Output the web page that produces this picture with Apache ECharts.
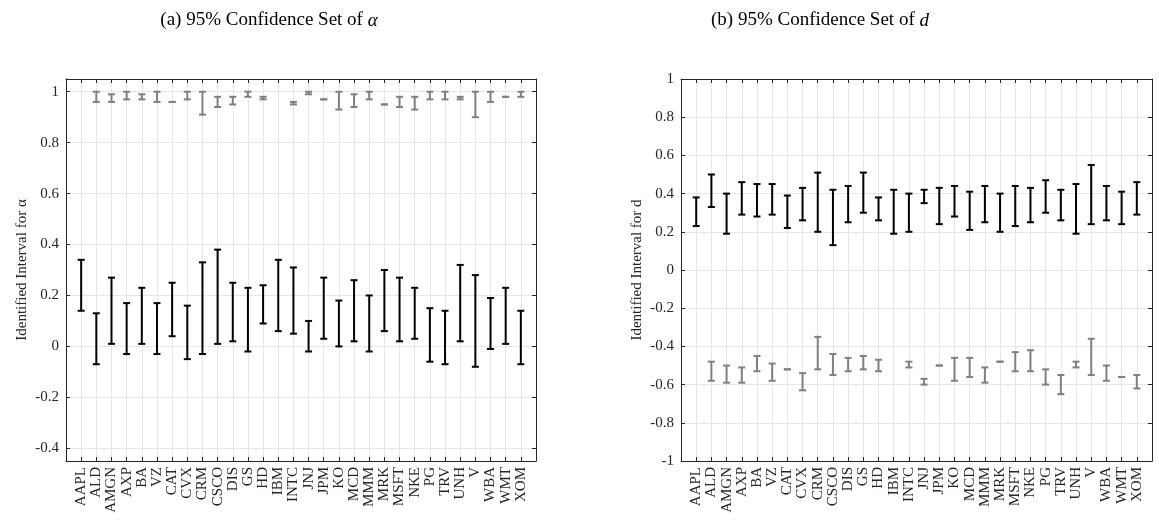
<!DOCTYPE html>
<html>
<head>
<meta charset="utf-8">
<script src="https://cdn.jsdelivr.net/npm/echarts@6/dist/echarts.min.js"></script>
<style>
  html, body { margin: 0; padding: 0; background: #fff; }
  #chart { width: 1159px; height: 527px; }
</style>
</head>
<body>
<div id="chart"></div>
<script>
const tickers = ["AAPL", "ALD", "AMGN", "AXP", "BA", "VZ", "CAT", "CVX", "CRM", "CSCO",
    "DIS", "GS", "HD", "IBM", "INTC", "JNJ", "JPM", "KO", "MCD", "MMM",
    "MRK", "MSFT", "NKE", "PG", "TRV", "UNH", "V", "WBA", "WMT", "XOM"];

// (a) alpha: main interval (black) and second piece (gray), null = no second piece
const alphaLow  = [0.14, -0.07, 0.01, -0.03, 0.01, -0.03, 0.04, -0.05, -0.03, 0.01,
    0.02, -0.02, 0.09, 0.06, 0.05, -0.02, 0.03, 0.00, 0.02, -0.02,
    0.06, 0.02, 0.03, -0.06, -0.07, 0.02, -0.08, -0.01, 0.01, -0.07];
const alphaHigh = [0.34, 0.13, 0.27, 0.17, 0.23, 0.17, 0.25, 0.16, 0.33, 0.38,
    0.25, 0.23, 0.24, 0.34, 0.31, 0.10, 0.27, 0.18, 0.26, 0.20,
    0.30, 0.27, 0.23, 0.15, 0.14, 0.32, 0.28, 0.19, 0.23, 0.14];
const alphaAltLow  = [null, 0.96, 0.96, 0.97, 0.97, 0.96, 0.96, 0.97, 0.91, 0.94,
    0.95, 0.98, 0.97, null, 0.95, 0.99, 0.97, 0.93, 0.94, 0.97,
    0.95, 0.94, 0.93, 0.97, 0.97, 0.97, 0.90, 0.96, 0.98, 0.98];
const alphaAltHigh = [null, 1.00, 0.99, 1.00, 0.99, 1.00, 0.96, 1.00, 1.00, 0.98,
    0.98, 1.00, 0.98, null, 0.96, 1.00, 0.97, 1.00, 0.99, 1.00,
    0.95, 0.98, 0.98, 1.00, 1.00, 0.98, 1.00, 1.00, 0.98, 1.00];

// (b) d
const dLow  = [0.23, 0.33, 0.19, 0.29, 0.28, 0.29, 0.22, 0.26, 0.20, 0.13,
    0.25, 0.30, 0.26, 0.19, 0.20, 0.35, 0.24, 0.28, 0.21, 0.25,
    0.20, 0.23, 0.25, 0.30, 0.26, 0.19, 0.24, 0.26, 0.24, 0.29];
const dHigh = [0.38, 0.50, 0.40, 0.46, 0.45, 0.45, 0.39, 0.43, 0.51, 0.42,
    0.44, 0.51, 0.38, 0.42, 0.40, 0.42, 0.43, 0.44, 0.41, 0.44,
    0.40, 0.44, 0.43, 0.47, 0.42, 0.45, 0.55, 0.44, 0.41, 0.46];
const dAltLow  = [null, -0.58, -0.59, -0.59, -0.53, -0.58, -0.52, -0.63, -0.52, -0.55,
    -0.53, -0.52, -0.53, null, -0.51, -0.60, -0.50, -0.58, -0.56, -0.59,
    -0.48, -0.53, -0.53, -0.60, -0.65, -0.51, -0.55, -0.58, -0.56, -0.62];
const dAltHigh = [null, -0.48, -0.50, -0.51, -0.45, -0.49, -0.52, -0.54, -0.35, -0.44,
    -0.46, -0.45, -0.47, null, -0.48, -0.57, -0.50, -0.46, -0.46, -0.51,
    -0.48, -0.43, -0.42, -0.52, -0.55, -0.48, -0.36, -0.50, -0.56, -0.55];

const alphaTicks = [-0.4, -0.2, 0, 0.2, 0.4, 0.6, 0.8, 1];
const dTicks = [-1, -0.8, -0.6, -0.4, -0.2, 0, 0.2, 0.4, 0.6, 0.8, 1];

const FONT = "Liberation Serif";
const AXIS_COLOR = "#262626";
const GRID_COLOR = "#e6e6e6";

const toItems = (low, high) =>
    low.map((lo, i) => (lo === null ? null : [i + 1, lo, high[i]]))
       .filter((d) => d !== null);

const errorBar = (color) => (params, api) => {
    const x = api.value(0);
    const lo = api.coord([x, api.value(1)]);
    const hi = api.coord([x, api.value(2)]);
    const half = 3.5;
    const style = { stroke: color, lineWidth: 2, fill: null };
    return {
        type: "group",
        children: [
            { type: "line", shape: { x1: lo[0], y1: lo[1], x2: hi[0], y2: hi[1] }, style },
            { type: "line", shape: { x1: lo[0] - half, y1: lo[1], x2: lo[0] + half, y2: lo[1] }, style },
            { type: "line", shape: { x1: hi[0] - half, y1: hi[1], x2: hi[0] + half, y2: hi[1] }, style },
        ],
    };
};

const fmt = (v) => String(+(+v).toFixed(1));

const makeX = (gridIndex) => [
    {
        type: "value", gridIndex, min: 0, max: 31, interval: 1,
        axisLine: { onZero: false, lineStyle: { color: AXIS_COLOR } },
        axisTick: { inside: true, length: 4, lineStyle: { color: AXIS_COLOR } },
        axisLabel: {
            rotate: 90, fontFamily: FONT, fontSize: 15, color: AXIS_COLOR, margin: 6,
            formatter: (v) => tickers[v - 1] || "",
        },
        splitLine: { show: true, lineStyle: { color: GRID_COLOR } },
    },
    {
        type: "value", gridIndex, min: 0, max: 31, interval: 1, position: "top",
        axisLine: { onZero: false, lineStyle: { color: AXIS_COLOR } },
        axisTick: { inside: true, length: 4, lineStyle: { color: AXIS_COLOR } },
        axisLabel: { show: false },
        splitLine: { show: false },
    },
];

const makeY = (gridIndex, min, max, ticks, name) => [
    {
        type: "value", gridIndex, min, max,
        name, nameLocation: "middle", nameGap: 36,
        nameTextStyle: { fontFamily: FONT, fontSize: 15, color: AXIS_COLOR },
        axisLine: { show: true, onZero: false, lineStyle: { color: AXIS_COLOR } },
        axisTick: { show: true, inside: true, length: 4, customValues: ticks, lineStyle: { color: AXIS_COLOR } },
        axisLabel: { customValues: ticks, fontFamily: FONT, fontSize: 15, color: AXIS_COLOR, formatter: fmt, margin: 7 },
        splitLine: { show: true, lineStyle: { color: GRID_COLOR } },
    },
    {
        type: "value", gridIndex, min, max, position: "right",
        axisLine: { show: true, onZero: false, lineStyle: { color: AXIS_COLOR } },
        axisTick: { show: true, inside: true, length: 4, customValues: ticks, lineStyle: { color: AXIS_COLOR } },
        axisLabel: { show: false },
        splitLine: { show: false },
    },
];

const chart = echarts.init(document.getElementById("chart"));

const titleStyle = {
    fontFamily: FONT, fontSize: 19, fontWeight: "normal", color: "#000",
    rich: { i: { fontFamily: FONT, fontSize: 19, fontStyle: "italic", color: "#000" } },
};

const option = {
    animation: false,
    title: [
        { text: "(a) 95% Confidence Set of {i|α}", left: 264, top: 6, textAlign: "center", textStyle: titleStyle },
        { text: "(b) 95% Confidence Set of {i|d}", left: 815, top: 6, textAlign: "center", textStyle: titleStyle },
    ],
    grid: [
        { left: 66, width: 470, top: 79, bottom: 66 },
        { left: 681, width: 471, top: 79, bottom: 66 },
    ],
    xAxis: [...makeX(0), ...makeX(1)],
    yAxis: [
        ...makeY(0, -0.45, 1.05, alphaTicks, "Identified Interval for α"),
        ...makeY(1, -1, 1, dTicks, "Identified Interval for d"),
    ],
    series: [
        { type: "custom", xAxisIndex: 0, yAxisIndex: 0, renderItem: errorBar("#000000"), data: toItems(alphaLow, alphaHigh), clip: false },
        { type: "custom", xAxisIndex: 0, yAxisIndex: 0, renderItem: errorBar("#808080"), data: toItems(alphaAltLow, alphaAltHigh), clip: false },
        { type: "custom", xAxisIndex: 2, yAxisIndex: 2, renderItem: errorBar("#000000"), data: toItems(dLow, dHigh), clip: false },
        { type: "custom", xAxisIndex: 2, yAxisIndex: 2, renderItem: errorBar("#808080"), data: toItems(dAltLow, dAltHigh), clip: false },
    ],
};

chart.setOption(option);
</script>
</body>
</html>
